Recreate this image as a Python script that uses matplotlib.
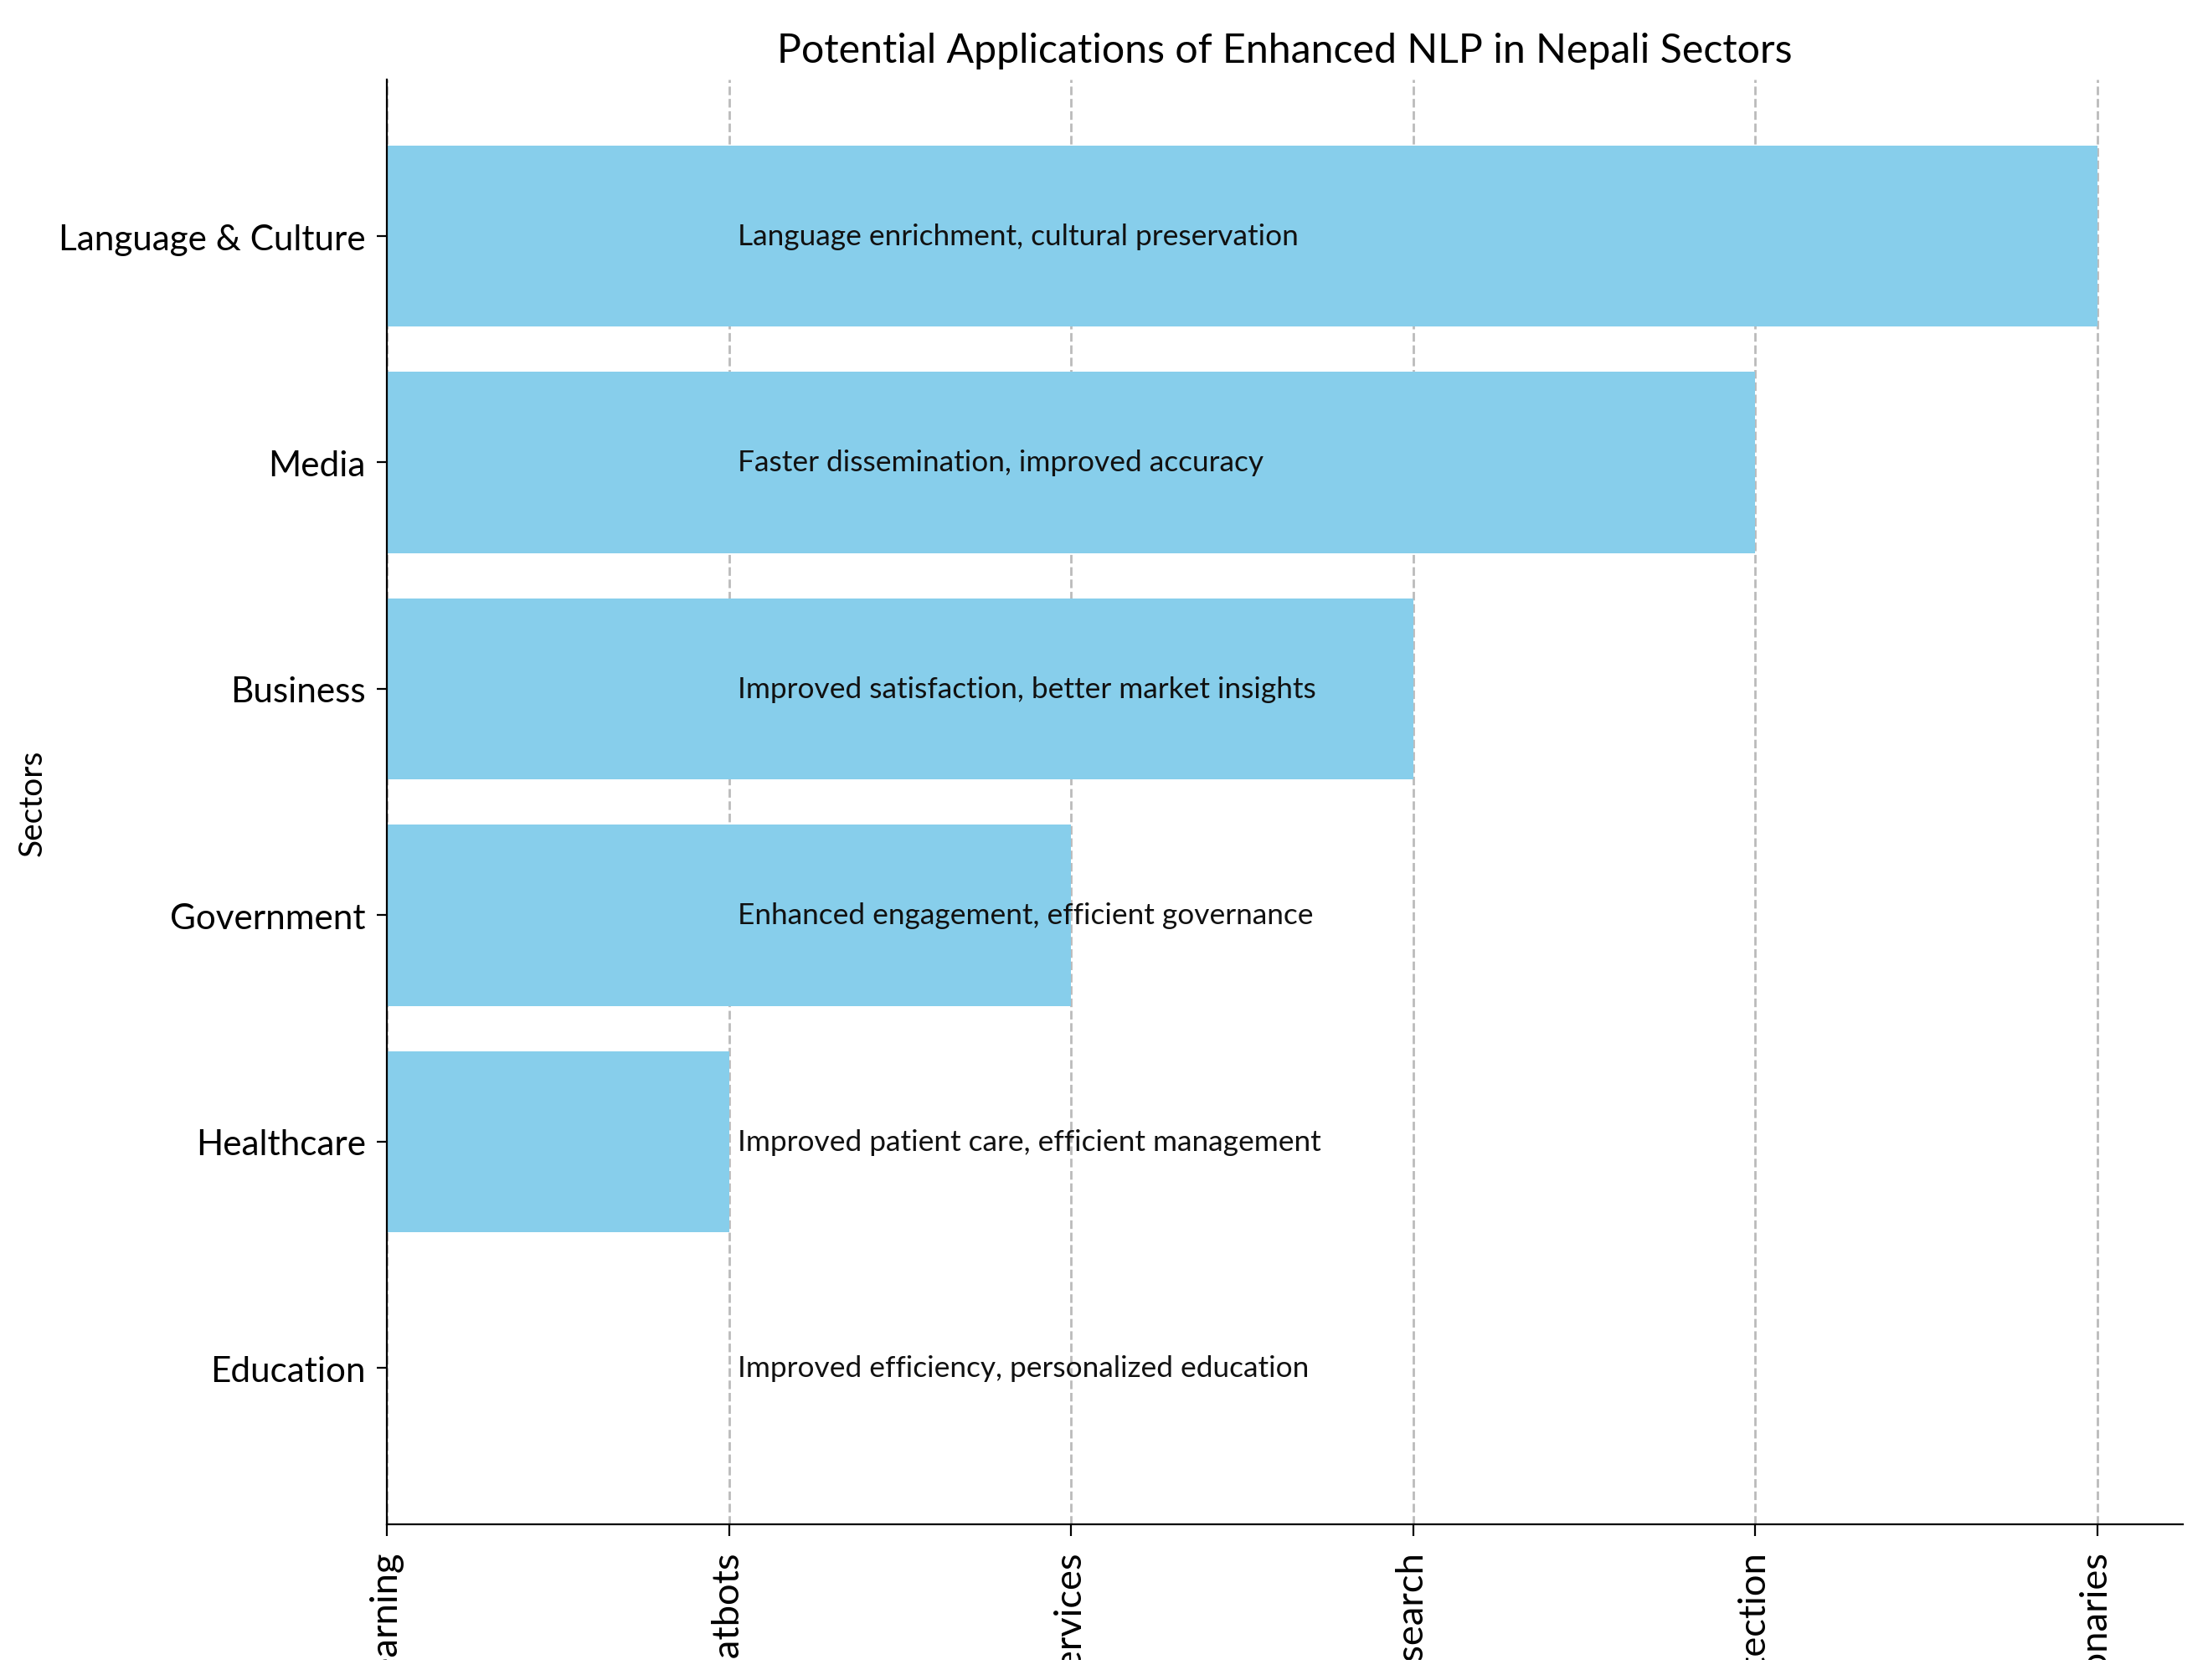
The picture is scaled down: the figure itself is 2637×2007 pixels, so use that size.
import matplotlib
matplotlib.use("Agg")
import matplotlib.pyplot as plt
from matplotlib.patches import Rectangle

sectors = ["Education", "Healthcare", "Government", "Business", "Media", "Language & Culture"]
applications = ["Personalized learning", "Medical chatbots", "E-governance services",
                "Market research", "Fake news detection", "Digital dictionaries"]
impacts = ["Improved efficiency, personalized education",
           "Improved patient care, efficient management",
           "Enhanced engagement, efficient governance",
           "Improved satisfaction, better market insights",
           "Faster dissemination, improved accuracy",
           "Language enrichment, cultural preservation"]

plt.rcParams['font.family'] = ['Lato', 'DejaVu Sans']

fig = plt.figure(figsize=(13.185, 10.04), dpi=200)
ax = fig.add_axes([0.1752, 0.0926, 0.8134, 0.8594])

app_index = list(range(len(applications)))
ax.barh(sectors, app_index, height=0.8, color='#87CEEB', zorder=2)
ax.set_xticks(app_index)
ax.set_xticklabels(applications, rotation=90, fontsize=16.3)
ax.tick_params(axis='x', length=5, pad=6.9)

for i, txt in enumerate(impacts):
    ax.text(1.025, i, txt, va='center', ha='left', fontsize=12.7, color='#111111', zorder=3)

ax.tick_params(axis='y', labelsize=15.2, pad=4.6, length=4.5)
ax.set_ylabel("Sectors", fontsize=14)
ax.yaxis.set_label_coords(-0.189, 0.5)
ax.set_title("Potential Applications of Enhanced NLP in Nepali Sectors", fontsize=17.4, pad=7.6)

ax.grid(axis='x', linestyle='--', color='#bbbbbb', linewidth=1.0)
ax.grid(axis='y', visible=False)
ax.set_axisbelow(True)
ax.spines['top'].set_visible(False)
ax.spines['right'].set_visible(False)

# white band at bottom edge (labels are cut off there in the reference)
fig.add_artist(Rectangle((0, 0), 1, 0.012, transform=fig.transFigure,
                         facecolor='white', edgecolor='none', zorder=10))

fig.savefig("out.png", dpi=200)
